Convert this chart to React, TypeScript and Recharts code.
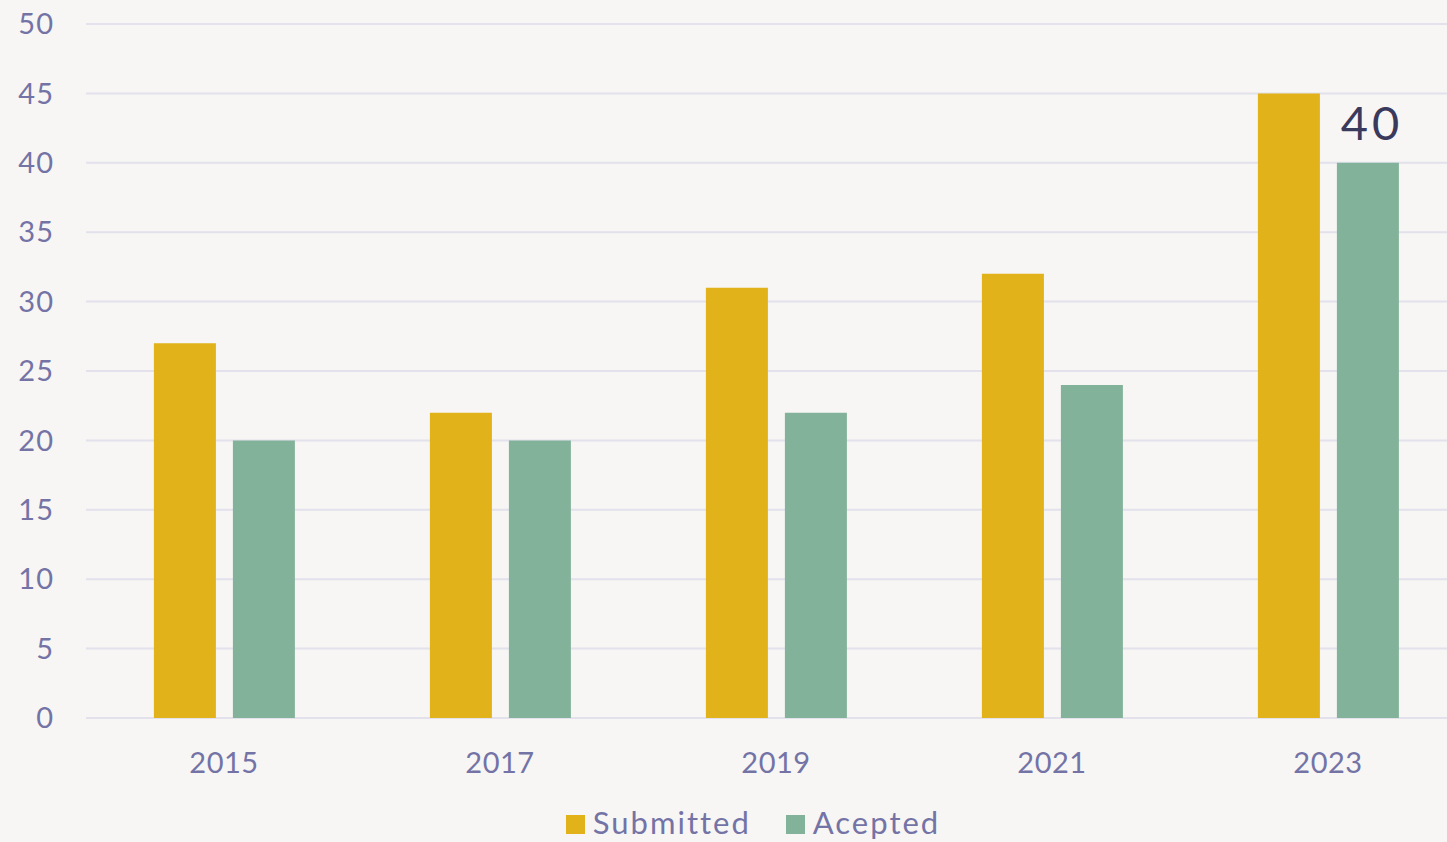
import React from 'react';
import { BarChart, Bar, XAxis, YAxis, CartesianGrid, Legend, LabelList } from 'recharts';

const years = ['2015', '2017', '2019', '2021', '2023'];
const submitted = [27, 22, 31, 32, 45];
const accepted = [20, 20, 22, 24, 40];
const yTicks = [0, 5, 10, 15, 20, 25, 30, 35, 40, 45, 50];
const seriesNames = ['Submitted', 'Acepted'];
const seriesColors = ['#E1B219', '#82B29A'];

const data = years.map((y, i) => ({ year: y, Submitted: submitted[i], Acepted: accepted[i] }));

const FONT = 'Lato, "Open Sans", sans-serif';
const TICK_COLOR = '#7473A6';

const LastLabel = (props: any) => {
  const { x, y, width, index, value } = props;
  if (index !== years.length - 1) return null;
  return (
    <text x={x + width / 2 + 4} y={y - 23} textAnchor="middle" fill="#3A3A5C" fontSize={47} fontFamily={FONT} letterSpacing={4}>
      {value}
    </text>
  );
};

const LegendContent = () => (
  <div style={{ display: 'flex', justifyContent: 'center', alignItems: 'center', gap: 35, height: 40, paddingLeft: 40, boxSizing: 'border-box' }}>
    {seriesNames.map((n, i) => (
      <div key={n} style={{ display: 'flex', alignItems: 'center', gap: 8 }}>
        <span style={{ display: 'inline-block', width: 19, height: 19, background: seriesColors[i], marginTop: 4 }} />
        <span style={{ color: TICK_COLOR, fontSize: 31, fontFamily: FONT, letterSpacing: 2, lineHeight: '40px' }}>{n}</span>
      </div>
    ))}
  </div>
);

export default function App() {
  return (
    <div style={{ position: 'absolute', left: 0, top: 0, width: 1447, height: 842, overflow: 'hidden', background: '#F7F6F4', fontFamily: FONT }}>
      <BarChart width={1466} height={842} data={data} margin={{ top: 24, right: 0, left: 0, bottom: 0 }} barCategoryGap="24.6%" barGap={17}>
        <CartesianGrid vertical={false} stroke="#E2E1EC" strokeWidth={2} />
        <XAxis dataKey="year" axisLine={false} tickLine={false} tickSize={0} tickMargin={34} height={84}
          tick={{ fill: TICK_COLOR, fontSize: 29, fontFamily: FONT, letterSpacing: 0.5 }} />
        <YAxis domain={[0, 50]} ticks={yTicks} interval={0} axisLine={false} tickLine={false} tickSize={0} tickMargin={32} width={86}
          tick={{ fill: TICK_COLOR, fontSize: 29, fontFamily: FONT, letterSpacing: 1 }} />
        <Legend verticalAlign="bottom" content={<LegendContent />} />
        <Bar dataKey="Submitted" fill={seriesColors[0]} isAnimationActive={false} />
        <Bar dataKey="Acepted" fill={seriesColors[1]} isAnimationActive={false}>
          <LabelList dataKey="Acepted" content={<LastLabel />} />
        </Bar>
      </BarChart>
    </div>
  );
}
